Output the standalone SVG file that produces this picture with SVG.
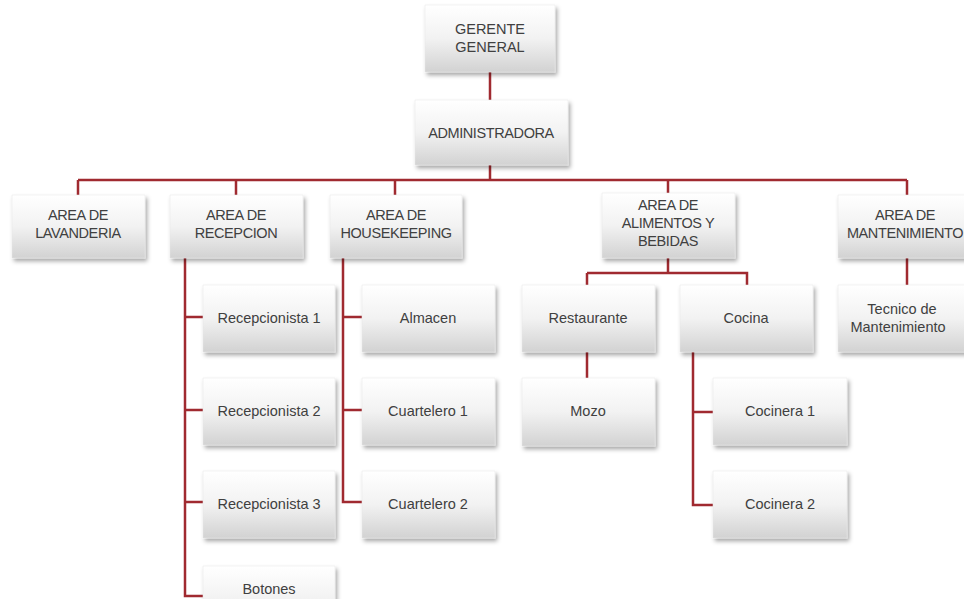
<svg xmlns="http://www.w3.org/2000/svg" width="964" height="599" viewBox="0 0 964 599">
<defs>
<linearGradient id="g" x1="0" y1="0" x2="0" y2="1">
<stop offset="0" stop-color="#ffffff"/>
<stop offset="0.5" stop-color="#f2f2f2"/>
<stop offset="1" stop-color="#d2d2d2"/>
</linearGradient>
<filter id="sh" x="-10%" y="-10%" width="125%" height="130%">
<feDropShadow dx="2" dy="3" stdDeviation="2" flood-color="#000" flood-opacity="0.35"/>
</filter>
</defs>
<style>
.b{fill:url(#g);filter:url(#sh);stroke:#e6e6e6;stroke-width:0.5}
.t{font-family:"Liberation Sans",Arial,sans-serif;font-size:14.5px;fill:#404040;text-anchor:middle}
.s{letter-spacing:-0.4px}
.c{fill:none;stroke:#a02a30;stroke-width:2.5}
</style>
<rect width="964" height="599" fill="#fff"/>
<g id="connectors">
<path class="c" d="M490 72V100M490 165V180M78 180H907M78 180V195M236 180V195M395 180V195M668 180V193M907 180V195"/>
<path class="c" d="M185 258V596H203M185 317H203M185 410H203M185 502H203"/>
<path class="c" d="M343 258V502H362M343 317H362M343 410H362"/>
<path class="c" d="M668 258V273M587 273H747V285M587 273V285M587 352V378"/>
<path class="c" d="M693 352V505H713M693 412H713"/>
<path class="c" d="M907 258V285"/>
</g>
<g id="gerente"><rect class="b" x="425" y="5" width="130" height="67"/><text class="t" x="490" y="34">GERENTE</text><text class="t" x="490" y="52">GENERAL</text></g>
<g id="administradora"><rect class="b" x="415" y="100" width="153" height="65"/><text class="t s" x="491" y="138">ADMINISTRADORA</text></g>
<g id="lavanderia"><rect class="b" x="12" y="195" width="133" height="63"/><text class="t s" x="78" y="220">AREA DE</text><text class="t s" x="78" y="238">LAVANDERIA</text></g>
<g id="recepcion"><rect class="b" x="170" y="195" width="133" height="63"/><text class="t s" x="236" y="220">AREA DE</text><text class="t s" x="236" y="238">RECEPCION</text></g>
<g id="housekeeping"><rect class="b" x="330" y="195" width="132" height="63"/><text class="t s" x="396" y="220">AREA DE</text><text class="t s" x="396" y="238">HOUSEKEEPING</text></g>
<g id="alimentos"><rect class="b" x="602" y="193" width="133" height="65"/><text class="t s" x="668" y="210">AREA DE</text><text class="t s" x="668" y="228">ALIMENTOS Y</text><text class="t s" x="668" y="246">BEBIDAS</text></g>
<g id="mantenimiento"><rect class="b" x="838" y="195" width="133" height="63"/><text class="t s" x="905" y="220">AREA DE</text><text class="t s" x="905" y="238">MANTENIMIENTO</text></g>
<g id="recepcionista1"><rect class="b" x="203" y="285" width="132" height="67"/><text class="t" x="269" y="323">Recepcionista 1</text></g>
<g id="recepcionista2"><rect class="b" x="203" y="378" width="132" height="67"/><text class="t" x="269" y="416">Recepcionista 2</text></g>
<g id="recepcionista3"><rect class="b" x="203" y="471" width="132" height="67"/><text class="t" x="269" y="509">Recepcionista 3</text></g>
<g id="botones"><rect class="b" x="203" y="566" width="132" height="67"/><text class="t" x="269" y="594">Botones</text></g>
<g id="almacen"><rect class="b" x="362" y="285" width="133" height="67"/><text class="t" x="428" y="323">Almacen</text></g>
<g id="cuartelero1"><rect class="b" x="362" y="378" width="133" height="67"/><text class="t" x="428" y="416">Cuartelero 1</text></g>
<g id="cuartelero2"><rect class="b" x="362" y="471" width="133" height="67"/><text class="t" x="428" y="509">Cuartelero 2</text></g>
<g id="restaurante"><rect class="b" x="522" y="285" width="133" height="67"/><text class="t" x="588" y="323">Restaurante</text></g>
<g id="cocina"><rect class="b" x="680" y="285" width="133" height="67"/><text class="t" x="746" y="323">Cocina</text></g>
<g id="mozo"><rect class="b" x="522" y="378" width="133" height="68"/><text class="t" x="588" y="416">Mozo</text></g>
<g id="cocinera1"><rect class="b" x="713" y="378" width="134" height="67"/><text class="t" x="780" y="416">Cocinera 1</text></g>
<g id="cocinera2"><rect class="b" x="713" y="471" width="134" height="67"/><text class="t" x="780" y="509">Cocinera 2</text></g>
<g id="tecnico"><rect class="b" x="838" y="285" width="133" height="67"/><text class="t" x="902" y="314">Tecnico de</text><text class="t" x="898" y="332">Mantenimiento</text></g>
</svg>
